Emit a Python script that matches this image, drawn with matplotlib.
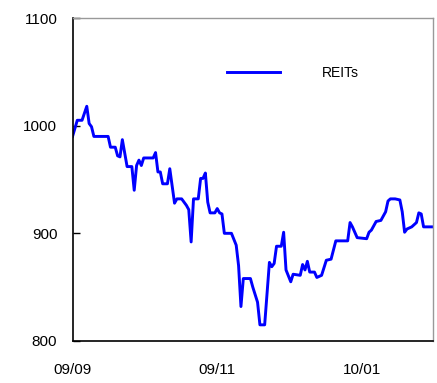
import matplotlib
matplotlib.use("Agg")
import matplotlib.pyplot as plt
import pandas as pd

plt.rcParams['font.family'] = ['Liberation Sans', 'DejaVu Sans']

dates = [
    "2009-09-01", "2009-09-03", "2009-09-05", "2009-09-07", "2009-09-08", "2009-09-09",
    "2009-09-10", "2009-09-16", "2009-09-17", "2009-09-19", "2009-09-20", "2009-09-21",
    "2009-09-22", "2009-09-24", "2009-09-26", "2009-09-27", "2009-09-28", "2009-09-29",
    "2009-09-30", "2009-10-01", "2009-10-05", "2009-10-06", "2009-10-07", "2009-10-08",
    "2009-10-09", "2009-10-11", "2009-10-12", "2009-10-14", "2009-10-15", "2009-10-17",
    "2009-10-19", "2009-10-20", "2009-10-21", "2009-10-22", "2009-10-24", "2009-10-25",
    "2009-10-26", "2009-10-27", "2009-10-28", "2009-10-29", "2009-10-31", "2009-11-01",
    "2009-11-02", "2009-11-03", "2009-11-04", "2009-11-07", "2009-11-09", "2009-11-10",
    "2009-11-11", "2009-11-12", "2009-11-15", "2009-11-16", "2009-11-18", "2009-11-19",
    "2009-11-21", "2009-11-23", "2009-11-24", "2009-11-25", "2009-11-26", "2009-11-28",
    "2009-11-29", "2009-11-30", "2009-12-02", "2009-12-03", "2009-12-06", "2009-12-07",
    "2009-12-08", "2009-12-09", "2009-12-10", "2009-12-12", "2009-12-13", "2009-12-15",
    "2009-12-17", "2009-12-19", "2009-12-21", "2009-12-26", "2009-12-27", "2009-12-28",
    "2009-12-30", "2010-01-03", "2010-01-04", "2010-01-05", "2010-01-07", "2010-01-09",
    "2010-01-11", "2010-01-12", "2010-01-13", "2010-01-15", "2010-01-17", "2010-01-18",
    "2010-01-19", "2010-01-20", "2010-01-22", "2010-01-24", "2010-01-25", "2010-01-26",
    "2010-01-27", "2010-01-29", "2010-01-31",
]
reits = [
    990, 1005, 1005, 1018, 1002, 999,
    990, 990, 980, 980, 972, 971,
    987, 962, 962, 940, 963, 968,
    963, 970, 970, 975, 957, 957,
    946, 946, 960, 928, 932, 932,
    926, 922, 892, 932, 932, 951,
    951, 956, 929, 919, 919, 923,
    919, 918, 900, 900, 889, 870,
    832, 858, 858, 850, 836, 815,
    815, 873, 869, 872, 888, 888,
    901, 866, 855, 862, 861, 871,
    866, 874, 864, 864, 859, 861,
    875, 876, 893, 893, 910, 906,
    896, 895, 901, 903, 911, 912,
    920, 930, 932, 932, 931, 920,
    901, 904, 906, 910, 919, 918,
    906, 906, 906,
]
xticks = ["2009-09-01", "2009-11-01", "2010-01-01"]
xticklabels = ["09/09", "09/11", "10/01"]

x = pd.to_datetime(dates)

fig = plt.figure(figsize=(4.37, 3.83), dpi=100)
ax = fig.add_axes([0.166, 0.1097, 0.825, 0.8433])
ax.plot(x, reits, color="#0000ff", lw=2.1, label="REITs")

ax.set_xlim(pd.Timestamp("2009-09-01"), pd.Timestamp("2010-01-31"))
ax.set_ylim(800, 1100)
ax.set_yticks([800, 900, 1000, 1100])
ax.set_xticks(pd.to_datetime(xticks))
ax.set_xticklabels(xticklabels)

ax.tick_params(axis="y", direction="in", length=5, width=1, pad=11, labelsize=11)
ax.tick_params(axis="x", length=0, pad=16, labelsize=11)
for s in ("left", "bottom"):
    ax.spines[s].set_color("black")
    ax.spines[s].set_linewidth(1.2)
for s in ("top", "right"):
    ax.spines[s].set_color("#999999")
    ax.spines[s].set_linewidth(1)

ax.legend(loc="center left", bbox_to_anchor=(0.4286, 0.83), frameon=False,
          borderpad=0, borderaxespad=0, handlelength=3.8, handletextpad=3.0,
          fontsize=10)

fig.savefig("out.png", dpi=100)
